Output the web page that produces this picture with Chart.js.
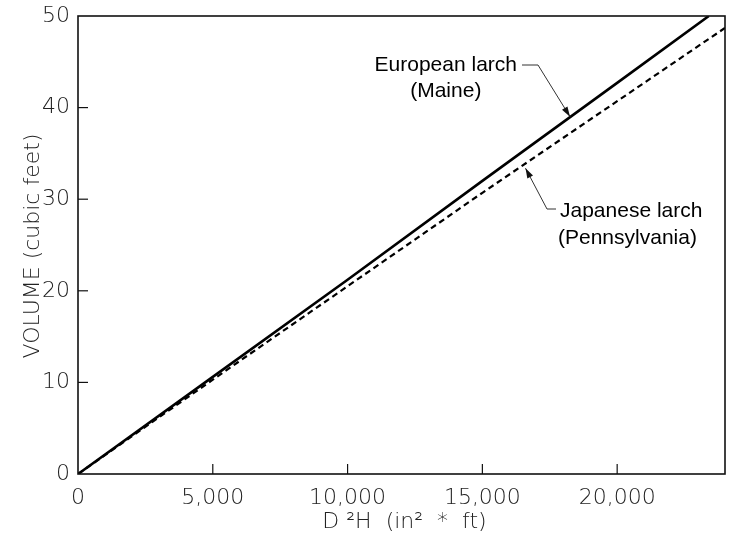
<!DOCTYPE html>
<html>
<head>
<meta charset="utf-8">
<script src="https://cdn.jsdelivr.net/npm/chart.js@4"></script>
<style>
html,body{margin:0;padding:0;background:#fff;}
#wrap{width:732px;height:545px;position:relative;}
</style>
</head>
<body>
<div id="wrap"><canvas id="c" width="732" height="545"></canvas></div>
<script>
// D²H values (in² * ft) and volumes (cubic feet)
const europeanD2H = [0, 5000, 10000, 15000, 20000, 23400];
const europeanVolume = [0, 10.6, 21.2, 32.0, 42.7, 50.0];
const japaneseD2H = [0, 5000, 10000, 15000, 20000, 24000];
const japaneseVolume = [0, 10.3, 20.5, 30.7, 40.7, 48.7];
const seriesNames = ["European larch (Maine)", "Japanese larch (Pennsylvania)"];
const xTickValues = [0, 5000, 10000, 15000, 20000];
const yTickValues = [0, 10, 20, 30, 40, 50];

const toPoints = (xs, ys) => xs.map((x, i) => ({x: x, y: ys[i]}));

const axisFont = "200 22px 'DejaVu Sans'";
const labelFont = "21px 'Liberation Sans', Arial, sans-serif";

function arrowHead(ctx, fx, fy, tx, ty) {
  const ang = Math.atan2(ty - fy, tx - fx);
  const len = 10, half = 3.2;
  ctx.beginPath();
  ctx.moveTo(tx, ty);
  ctx.lineTo(tx - len * Math.cos(ang) + half * Math.sin(ang), ty - len * Math.sin(ang) - half * Math.cos(ang));
  ctx.lineTo(tx - len * Math.cos(ang) - half * Math.sin(ang), ty - len * Math.sin(ang) + half * Math.cos(ang));
  ctx.closePath();
  ctx.fill();
}

const framePlugin = {
  id: 'frame',
  afterDraw(chart) {
    const {ctx, chartArea: {left, right, top, bottom}, scales: {x, y}} = chart;
    ctx.save();
    ctx.strokeStyle = '#111';
    ctx.lineWidth = 1.6;
    ctx.strokeRect(left, top, right - left, bottom - top);
    ctx.lineWidth = 1.2;
    x.ticks.forEach(t => {
      const px = x.getPixelForValue(t.value);
      if (px <= left + 1) return;
      ctx.beginPath(); ctx.moveTo(px, bottom); ctx.lineTo(px, bottom - 10); ctx.stroke();
    });
    y.ticks.forEach(t => {
      const py = y.getPixelForValue(t.value);
      if (py >= bottom - 1 || py <= top + 1) return;
      ctx.beginPath(); ctx.moveTo(left, py); ctx.lineTo(left + 10, py); ctx.stroke();
    });

    // axis titles
    ctx.fillStyle = '#222';
    ctx.font = axisFont;
    ctx.textAlign = 'center';
    ctx.textBaseline = 'middle';
    ctx.fillText('D \u00B2H  (in\u00B2  *  ft)', (left + right) / 2 + 3, 522);
    ctx.save();
    ctx.translate(33, (top + bottom) / 2 + 1);
    ctx.rotate(-Math.PI / 2);
    ctx.fillText('VOLUME (cubic feet)', 0, 0);
    ctx.restore();

    // annotations
    ctx.strokeStyle = '#333';
    ctx.fillStyle = '#111';
    ctx.lineWidth = 1;
    const eTipX = x.getPixelForValue(18250), eTipY = y.getPixelForValue(38.9);
    const eElbX = 538, eElbY = 65;
    ctx.beginPath();
    ctx.moveTo(522, eElbY); ctx.lineTo(eElbX, eElbY); ctx.lineTo(eTipX, eTipY - 1);
    ctx.stroke();
    arrowHead(ctx, eElbX, eElbY, eTipX, eTipY - 1);
    const jTipX = x.getPixelForValue(16600), jTipY = y.getPixelForValue(33.6);
    const jElbX = 547, jElbY = 209;
    ctx.beginPath();
    ctx.moveTo(556, jElbY); ctx.lineTo(jElbX, jElbY); ctx.lineTo(jTipX, jTipY + 2);
    ctx.stroke();
    arrowHead(ctx, jElbX, jElbY, jTipX, jTipY + 2);

    ctx.font = labelFont;
    ctx.fillStyle = '#000';
    ctx.textBaseline = 'middle';
    const w = ctx.measureText('European larch').width;
    const cx = 517 - w / 2;
    ctx.textAlign = 'center';
    ctx.fillText('European larch', cx, 65);
    ctx.fillText('(Maine)', cx, 91);
    ctx.textAlign = 'left';
    ctx.fillText('Japanese larch', 560, 211);
    ctx.fillText('(Pennsylvania)', 558, 238);
    ctx.restore();
  }
};

new Chart(document.getElementById('c'), {
  type: 'line',
  data: {
    datasets: [
      {
        label: seriesNames[0],
        data: toPoints(europeanD2H, europeanVolume),
        borderColor: '#000',
        borderWidth: 2.6,
        pointRadius: 0,
        tension: 0,
        fill: false
      },
      {
        label: seriesNames[1],
        data: toPoints(japaneseD2H, japaneseVolume),
        borderColor: '#000',
        borderWidth: 2.2,
        borderDash: [6, 4],
        pointRadius: 0,
        tension: 0,
        fill: false
      }
    ]
  },
  options: {
    responsive: false,
    animation: false,
    devicePixelRatio: 1,
    layout: {padding: {left: 0, top: 16, right: 7, bottom: 0}},
    plugins: {legend: {display: false}, tooltip: {enabled: false}},
    scales: {
      x: {
        type: 'linear',
        min: 0, max: 24000,
        border: {display: false},
        grid: {display: false, drawTicks: false},
        afterFit: s => { s.height = 71; s.paddingLeft = 0; s.paddingRight = 0; },
        afterBuildTicks: s => { s.ticks = xTickValues.map(v => ({value: v})); },
        ticks: {
          padding: 11,
          color: '#222',
          font: {family: 'DejaVu Sans', size: 22, weight: 200},
          maxRotation: 0,
          callback: v => v.toLocaleString('en-US')
        }
      },
      y: {
        type: 'linear',
        min: 0, max: 50,
        border: {display: false},
        grid: {display: false, drawTicks: false},
        afterFit: s => { s.width = 78; s.paddingTop = 0; s.paddingBottom = 0; },
        afterBuildTicks: s => { s.ticks = yTickValues.map(v => ({value: v})); },
        ticks: {
          padding: 8,
          color: '#222',
          font: {family: 'DejaVu Sans', size: 22, weight: 200}
        }
      }
    }
  },
  plugins: [framePlugin]
});
</script>
</body>
</html>
